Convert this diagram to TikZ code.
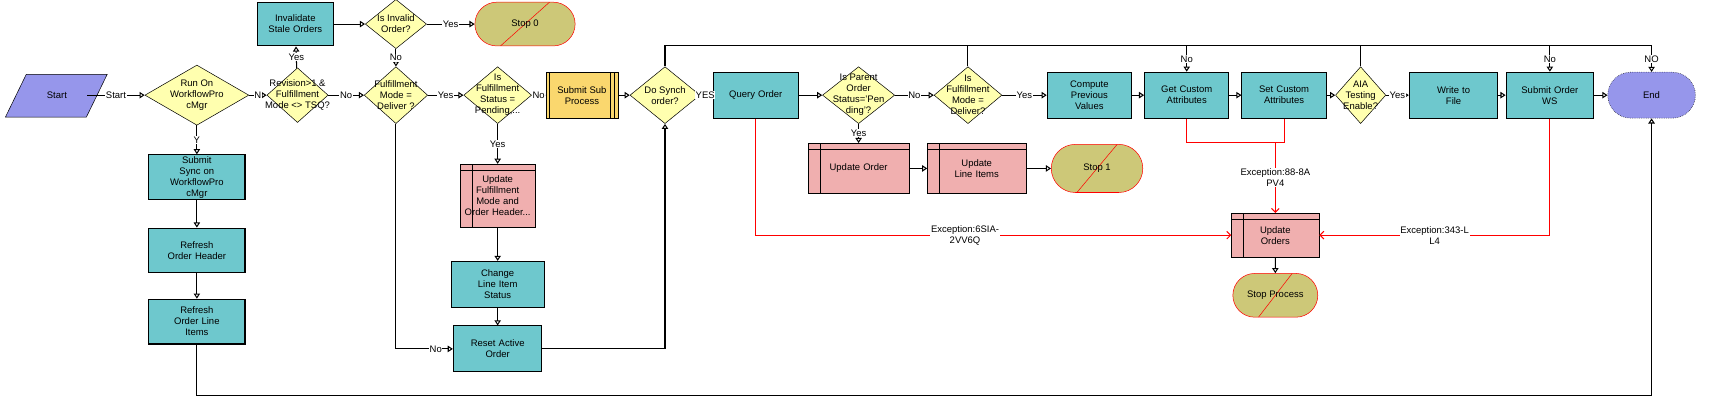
\documentclass[tikz,border=0pt]{standalone}
\usepackage{fontspec}
\setmainfont{Liberation Sans}
\usetikzlibrary{shapes.geometric,shapes.misc,arrows.meta}
\definecolor{teal1}{RGB}{110,200,205}
\definecolor{dyel}{RGB}{255,255,175}
\definecolor{stopc}{RGB}{205,200,120}
\definecolor{bluec}{RGB}{150,150,235}
\definecolor{pinkc}{RGB}{240,175,175}
\definecolor{subc}{RGB}{250,215,110}
\begin{document}
\begin{tikzpicture}[x=0.03cm,y=-0.03cm,
  font=\fontsize{7.4}{8.6}\selectfont,
  every node/.style={align=center},
  box/.style 2 args={draw,thick,fill=teal1,minimum width=#1*0.03cm,minimum height=#2*0.03cm,inner sep=1pt,text width=#1*0.03cm-4pt},
  rbox/.style 2 args={draw,fill=pinkc,minimum width=#1*0.03cm,minimum height=#2*0.03cm,inner sep=1pt,text width=#1*0.03cm-4pt,
     path picture={\draw ([yshift=-5pt]path picture bounding box.north west)--([yshift=-5pt]path picture bounding box.north east);
                   \draw ([xshift=9pt]path picture bounding box.north west)--([xshift=9pt]path picture bounding box.south west);}},
  dia/.style 2 args={draw,diamond,fill=dyel,minimum width=#1*0.03cm,minimum height=#2*0.03cm,inner sep=0pt,shape aspect=1.2},
  stp/.style 2 args={draw=red,rounded rectangle,fill=stopc,minimum width=#1*0.03cm,minimum height=#2*0.03cm,inner sep=1pt,
     path picture={\draw[red] ([xshift=20pt]path picture bounding box.south west)--([xshift=-20pt]path picture bounding box.north east);}},
  ln/.style={thick,draw=black},
  ar/.style={thick,-{Triangle[open,length=4pt,width=5pt]}},
  rar/.style={thick,red,-{Straight Barb[length=3pt,width=6pt]}},
  lbl/.style={fill=white,inner sep=0.5pt},
]
\useasboundingbox (0,0) rectangle (1568,367);
% nodes
\fill[bluec,draw=black] (5,107) -- (24,68) -- (98,68) -- (79,107) -- cycle;
\node[inner sep=0pt,minimum width=55*0.03cm,minimum height=39*0.03cm] (start) at (52,87) {Start};
\node[dia={95}{55},label={center:Run On\\WorkflowPro\\cMgr}] (run) at (180,87) {};
\node[dia={56}{50},label={center:Revision>1 \&\\Fulfillment\\Mode <> TSQ?}] (rev) at (272,87) {};
\node[box={70}{40}] (inv) at (270,22) {Invalidate\\Stale Orders};
\node[dia={56}{45},label={center:Is Invalid\\Order?}] (isinv) at (362,22) {};
\node[stp={94}{40}] (stop0) at (480,22) {Stop 0};
\node[dia={58}{52},label={center:Fulfillment\\Mode =\\Deliver ?}] (fm1) at (362,87) {};
\node[dia={62}{52},label={center:Is\\Fulfillment\\Status =\\Pending,...}] (fs) at (455,87) {};
\node[draw,fill=subc,minimum width=66*0.03cm,minimum height=42*0.03cm,inner sep=1pt,
  path picture={\draw ([xshift=3pt]path picture bounding box.north west)--([xshift=3pt]path picture bounding box.south west);
   \draw ([xshift=-3pt]path picture bounding box.north east)--([xshift=-3pt]path picture bounding box.south east);
   \draw ([xshift=-6pt]path picture bounding box.north east)--([xshift=-6pt]path picture bounding box.south east);}] (sub) at (532,87) {Submit Sub\\Process};
\node[dia={64}{52},label={center:Do Synch\\order?}] (sync) at (608,87) {};
\node[box={78}{42}] (qo) at (691,87) {Query Order};
\node[dia={66}{52},label={center:Is Parent\\Order\\Status='Pen\\ding'?}] (par) at (785,87) {};
\node[dia={62}{52},label={center:Is\\Fulfillment\\Mode =\\Deliver?}] (fm2) at (885,87) {};
\node[box={77}{42}] (cpv) at (996,87) {Compute\\Previous\\Values};
\node[box={77}{42}] (gca) at (1085,87) {Get Custom\\Attributes};
\node[box={77}{42}] (sca) at (1174,87) {Set Custom\\Attributes};
\node[dia={46}{52},label={center:AIA\\Testing\\Enable?}] (aia) at (1244,87) {};
\node[box={81}{42}] (wf) at (1329,87) {Write to\\File};
\node[box={80}{42}] (so) at (1417,87) {Submit Order\\WS};
\node[draw,densely dotted,rounded rectangle,fill=bluec,minimum width=88*0.03cm,minimum height=42*0.03cm] (end) at (1510,87) {End};
\node[box={88}{41}] (ssw) at (180,162) {Submit\\Sync on\\WorkflowPro\\cMgr};
\node[box={88}{41}] (roh) at (180,229) {Refresh\\Order Header};
\node[box={88}{41}] (rol) at (180,294) {Refresh\\Order Line\\Items};
\node[rbox={68}{58}] (ufm) at (455,179) {Update\\Fulfillment\\Mode and\\Order Header...};
\node[box={85}{42}] (cli) at (455,260) {Change\\Line Item\\Status};
\node[box={81}{42}] (rao) at (455,319) {Reset Active\\Order};
\node[rbox={92}{46}] (uo) at (785,154) {Update Order};
\node[rbox={90}{46}] (uli) at (893,154) {Update\\Line Items};
\node[stp={86}{44}] (stop1) at (1003,154) {Stop 1};
\node[rbox={80}{40}] (uos) at (1166,215) {Update\\Orders};
\node[stp={80}{40}] (stpp) at (1166,270) {Stop Process};
% connectors
\draw[ar] (par.south) -- node[lbl]{Yes} (uo.north);
\draw[ar] (uo.east) -- (uli.west);
\draw[ar] (uli.east) -- (stop1.west);
\draw[ar] (start) -- node[lbl]{Start} (run);
\draw[ar] (run) -- node[lbl]{N} (rev);
\draw[ar] (rev) -- node[lbl]{No} (fm1);
\draw[ar] (rev) -- node[lbl]{Yes} (inv);
\draw[ar] (inv) -- (isinv);
\draw[ar] (isinv) -- node[lbl]{Yes} (stop0);
\draw[ar] (isinv) -- node[lbl]{No} (fm1);
\draw[ar] (fm1) -- node[lbl]{Yes} (fs);
\draw[ar] (fs) -- node[lbl]{No} (sub);
\draw[ar] (sub) -- (sync);
\draw[ar] (sync) -- node[lbl,pos=0.4]{YES} (qo);
\draw[ar] (qo) -- (par);
\draw[ar] (par) -- node[lbl]{No} (fm2);
\draw[ar] (fm2) -- node[lbl]{Yes} (cpv);
\draw[ar] (cpv) -- (gca);
\draw[ar] (gca) -- (sca);
\draw[ar] (sca) -- (aia);
\draw[ar] (aia) -- node[lbl]{Yes} (wf);
\draw[ar] (wf) -- (so);
\draw[ar] (so) -- (end);
\draw[ar] (run) -- node[lbl]{Y} (ssw);
\draw[ar] (ssw) -- (roh);
\draw[ar] (roh) -- (rol);
\draw[ar] (fs) -- node[lbl]{Yes} (ufm);
\draw[ar] (ufm) -- (cli);
\draw[ar] (cli) -- (rao);
\draw[ar] (fm1.south) |- node[lbl,pos=0.85]{No} (rao.west);
\draw[ar] (rao.east) -| (sync.south);
\coordinate (bl) at (180,362);
\draw[ar] (rol.south) -- (bl) -| (end.south);
% top bus
\coordinate (b1) at (608,42);
\coordinate (b2) at (1510,42);
\draw[ln] (sync.north) -- (b1) -- (b2);
\draw[ar] (b2) -- node[lbl]{NO} (end.north);
\draw[ln] (fm2.north) -- (fm2.north |- b1);
\draw[ln] (aia.north) -- (aia.north |- b1);
\draw[ar] (gca.north |- b1) -- node[lbl]{No} (gca.north);
\draw[ar] (so.north |- b1) -- node[lbl]{No} (so.north);
% exceptions
\draw[rar] (qo.south) |- node[lbl,pos=0.72,text=black]{Exception:6SIA-\\2VV6Q} (uos.west);
\draw[rar] (so.south) |- node[lbl,pos=0.75,text=black]{Exception:343-L\\L4} (uos.east);
\coordinate (j) at (uos.north |- 0,130);
\draw[thick,red] (gca.south) |- (j);
\draw[thick,red] (sca.south) |- (j);
\draw[rar] (j) -- node[lbl,text=black]{Exception:88-8A\\PV4} (uos.north);
\draw[ar] (uos) -- (stpp);
\end{tikzpicture}
\end{document}
